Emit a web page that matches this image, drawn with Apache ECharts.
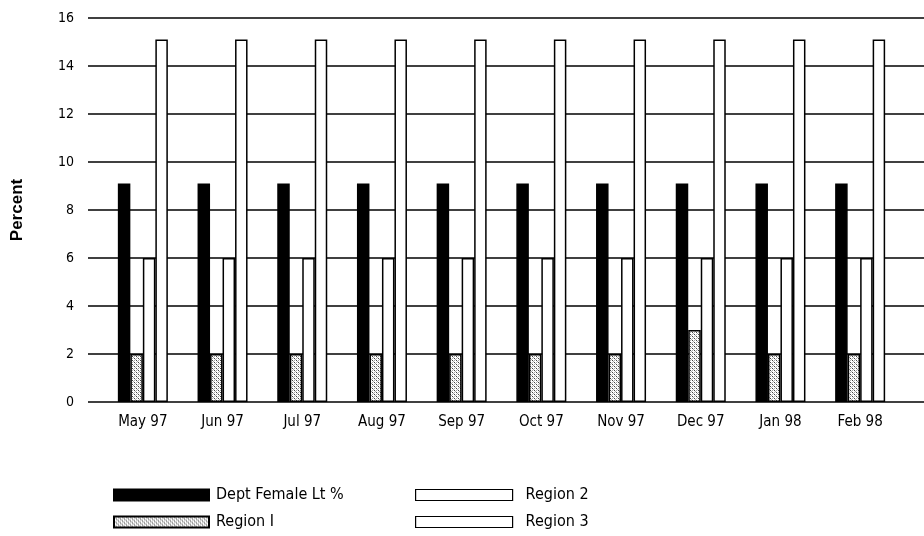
<!DOCTYPE html>
<html>
<head>
<meta charset="utf-8">
<script src="https://cdn.jsdelivr.net/npm/echarts@6/dist/echarts.min.js"></script>
<style>html,body{margin:0;padding:0;background:#fff}#c{width:924px;height:536px}</style>
</head>
<body>
<div id="c"></div>
<script>
const categories = ['May 97','Jun 97','Jul 97','Aug 97','Sep 97','Oct 97','Nov 97','Dec 97','Jan 98','Feb 98'];
const deptFemale = [9.1,9.1,9.1,9.1,9.1,9.1,9.1,9.1,9.1,9.1];
const region1 = [2,2,2,2,2,2,2,3,2,2];
const region2 = [6,6,6,6,6,6,6,6,6,6];
const region3 = [15.1,15.1,15.1,15.1,15.1,15.1,15.1,15.1,15.1,15.1];
const yTicks = [0,2,4,6,8,10,12,14,16];

const FONT = "'Liberation Sans Narrow','Arial Narrow','DejaVu Sans Condensed',sans-serif";

function stipple(){
  const c = document.createElement('canvas');
  c.width = 4; c.height = 4;
  const g = c.getContext('2d');
  g.fillStyle = '#ffffff'; g.fillRect(0,0,4,4);
  g.fillStyle = '#444';
  [[0,0],[2,2]].forEach(p=>g.fillRect(p[0],p[1],1,1));
  g.fillStyle = '#aaa';
  [[2,0],[0,2],[1,1],[3,3]].forEach(p=>g.fillRect(p[0],p[1],1,1));
  return c;
}
const dotFill = {image: stipple(), repeat: 'repeat'};

const chart = echarts.init(document.getElementById('c'), null, {renderer:'canvas'});
const border = {borderColor:'#000', borderWidth:1.5};
chart.setOption({
  animation:false,
  backgroundColor:'#fff',
  grid:[
    {left:88, right:0, top:18, bottom:134},
    {left:103, right:24, top:18, bottom:134}
  ],
  xAxis:[
    {gridIndex:0, type:'value', min:0, max:1, show:false},
    {gridIndex:1, type:'category', data:categories,
      axisLine:{show:false}, axisTick:{show:false},
      axisLabel:{color:'#000', fontFamily:FONT, fontSize:15, margin:13}}
  ],
  yAxis:[
    {gridIndex:0, type:'value', min:0, max:16, interval:2,
      name:'Percent', nameLocation:'middle', nameGap:62,
      nameTextStyle:{color:'#000', fontFamily:"'Liberation Sans','Arial',sans-serif", fontWeight:'bold', fontSize:17},
      axisLine:{show:false}, axisTick:{show:false},
      axisLabel:{color:'#000', fontFamily:FONT, fontSize:14, margin:14,
        formatter:v=>yTicks.includes(v)?String(v):''},
      splitLine:{show:true, lineStyle:{color:'#000', width:1.6}}},
    {gridIndex:1, type:'value', min:0, max:16, interval:2, show:false, splitLine:{show:false}}
  ],
  legend:[
    {left:108, top:482, orient:'vertical', itemWidth:95, itemHeight:11, itemGap:11,
      selectedMode:false, icon:'rect',
      textStyle:{color:'#000', fontFamily:FONT, fontSize:16, padding:[0,0,0,2]},
      data:['Dept Female Lt %','Region I']},
    {left:410, top:482, orient:'vertical', itemWidth:97, itemHeight:11, itemGap:11,
      selectedMode:false, icon:'rect',
      textStyle:{color:'#000', fontFamily:FONT, fontSize:16, padding:[0,0,0,8]},
      itemStyle:{borderWidth:1.2},
      data:['Region 2','Region 3']}
  ],
  series:[
    {name:'Dept Female Lt %', type:'bar', xAxisIndex:1, yAxisIndex:1, data:deptFemale,
      barWidth:12.5, barGap:'0%', itemStyle:Object.assign({color:'#000'}, border)},
    {name:'Region I', type:'bar', xAxisIndex:1, yAxisIndex:1, data:region1,
      barWidth:12.5, barGap:'0%', itemStyle:Object.assign({color:dotFill}, border)},
    {name:'Region 2', type:'bar', xAxisIndex:1, yAxisIndex:1, data:region2,
      barWidth:12.5, barGap:'0%', itemStyle:Object.assign({color:'#fff'}, border)},
    {name:'Region 3', type:'bar', xAxisIndex:1, yAxisIndex:1, data:region3,
      barWidth:12.5, barGap:'0%', itemStyle:Object.assign({color:'#fff'}, border)}
  ]
});
</script>
</body>
</html>
